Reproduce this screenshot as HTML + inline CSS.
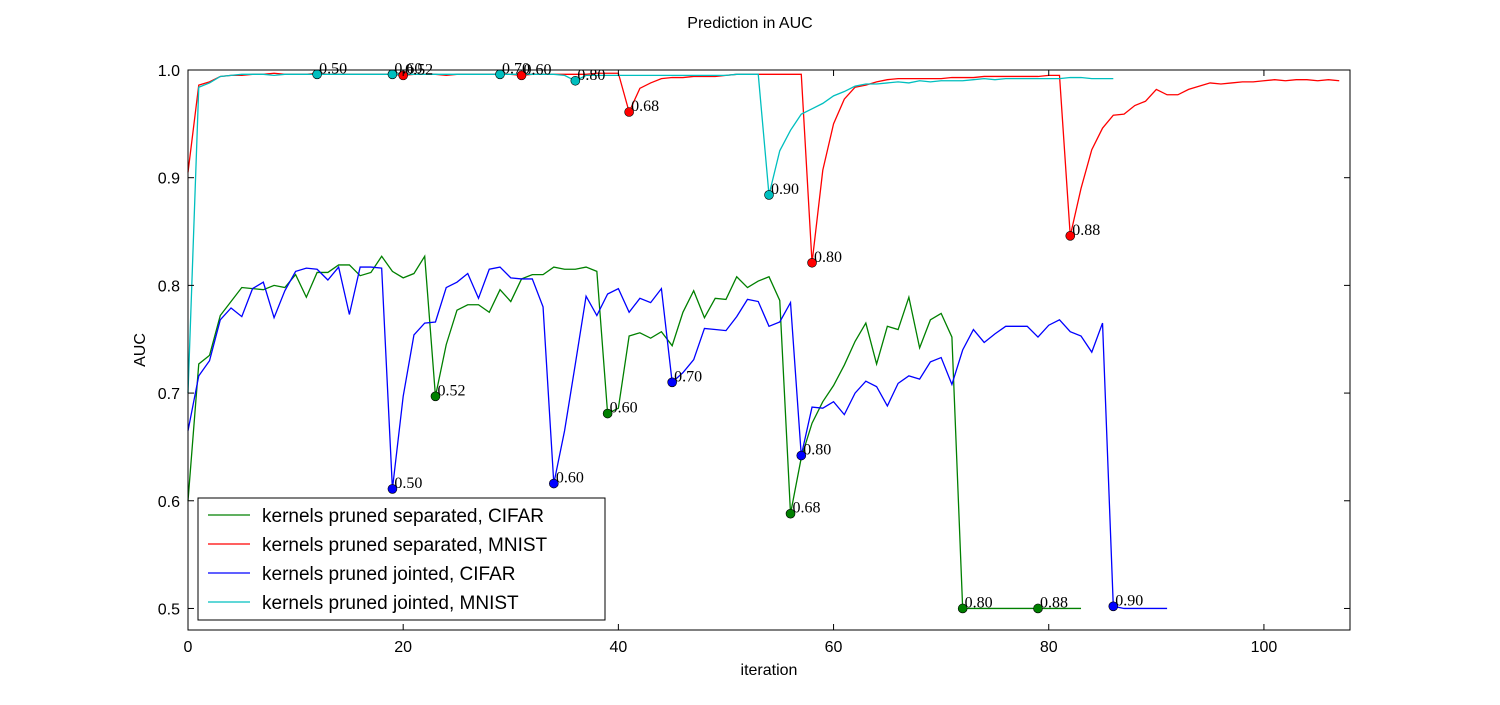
<!DOCTYPE html>
<html><head><meta charset="utf-8"><style>
body{margin:0;background:#fff;width:1500px;height:700px;overflow:hidden}
svg text{font-family:"Liberation Sans",sans-serif}
</style></head><body>
<svg id="c" width="1500" height="700"></svg>
<script>
const greenVals=[0.60,0.727,0.735,0.772,0.785,0.798,0.797,0.796,0.800,0.798,0.810,0.789,0.812,0.812,0.819,0.819,0.809,0.812,0.827,0.813,0.807,0.811,0.827,0.697,0.745,0.777,0.782,0.782,0.775,0.796,0.785,0.806,0.810,0.810,0.817,0.815,0.815,0.817,0.813,0.681,0.686,0.753,0.756,0.751,0.757,0.744,0.775,0.795,0.770,0.788,0.787,0.808,0.798,0.804,0.808,0.786,0.588,0.640,0.672,0.692,0.707,0.726,0.748,0.765,0.727,0.762,0.759,0.789,0.742,0.768,0.774,0.752,0.500,0.500,0.500,0.500,0.500,0.500,0.500,0.500,0.500,0.500,0.500,0.500];
const blueVals=[0.665,0.716,0.730,0.768,0.779,0.771,0.797,0.803,0.770,0.795,0.813,0.816,0.815,0.805,0.817,0.773,0.817,0.817,0.816,0.611,0.697,0.754,0.765,0.766,0.798,0.803,0.811,0.788,0.815,0.817,0.807,0.806,0.806,0.780,0.616,0.665,0.727,0.790,0.772,0.792,0.797,0.775,0.788,0.784,0.797,0.710,0.719,0.731,0.760,0.759,0.758,0.771,0.787,0.785,0.762,0.766,0.784,0.642,0.687,0.686,0.692,0.680,0.700,0.711,0.706,0.688,0.709,0.716,0.713,0.729,0.733,0.708,0.740,0.759,0.747,0.755,0.762,0.762,0.762,0.752,0.763,0.768,0.757,0.753,0.738,0.765,0.502,0.500,0.500,0.500,0.500,0.500];
const redVals=[0.905,0.986,0.989,0.994,0.995,0.995,0.996,0.996,0.997,0.996,0.996,0.996,0.997,0.996,0.996,0.996,0.996,0.996,0.996,0.996,0.995,0.996,0.996,0.996,0.995,0.996,0.996,0.996,0.996,0.996,0.996,0.995,0.996,0.996,0.996,0.996,0.996,0.996,0.997,0.997,0.997,0.961,0.983,0.988,0.992,0.993,0.993,0.994,0.994,0.994,0.995,0.996,0.996,0.996,0.996,0.996,0.996,0.996,0.821,0.907,0.950,0.973,0.984,0.986,0.989,0.991,0.992,0.992,0.992,0.992,0.992,0.993,0.993,0.993,0.994,0.994,0.994,0.994,0.994,0.994,0.995,0.995,0.846,0.890,0.926,0.946,0.958,0.959,0.967,0.971,0.982,0.977,0.977,0.982,0.985,0.988,0.987,0.988,0.989,0.989,0.990,0.991,0.990,0.991,0.991,0.990,0.991,0.990];
const cyanVals=[0.70,0.984,0.988,0.994,0.995,0.996,0.996,0.996,0.995,0.996,0.996,0.996,0.996,0.996,0.996,0.996,0.996,0.996,0.996,0.996,0.996,0.996,0.996,0.996,0.996,0.996,0.996,0.996,0.996,0.996,0.996,0.996,0.996,0.996,0.996,0.995,0.990,0.995,0.995,0.995,0.995,0.995,0.995,0.995,0.995,0.995,0.995,0.995,0.995,0.995,0.995,0.996,0.996,0.996,0.884,0.925,0.944,0.959,0.964,0.969,0.976,0.980,0.985,0.987,0.987,0.988,0.989,0.988,0.990,0.989,0.990,0.990,0.990,0.991,0.992,0.991,0.992,0.992,0.992,0.992,0.992,0.992,0.993,0.993,0.992,0.992,0.992];
const greenMarks=[23,39,56,72,79], greenLabels=["0.52","0.60","0.68","0.80","0.88"];
const blueMarks=[19,34,45,57,86], blueLabels=["0.50","0.60","0.70","0.80","0.90"];
const redMarks=[20,31,41,58,82], redLabels=["0.52","0.60","0.68","0.80","0.88"];
const cyanMarks=[12,19,29,36,54], cyanLabels=["0.50","0.60","0.70","0.80","0.90"];
const xTicks=[0,20,40,60,80,100];
const yTicks=[0.5,0.6,0.7,0.8,0.9,1.0];

const L=188,R=1350,T=70,B=630,X0=0,X1=108,Y0=0.48,Y1=1.0;
const sx=v=>L+(v-X0)/(X1-X0)*(R-L);
const sy=v=>B-(v-Y0)/(Y1-Y0)*(B-T);
const NS="http://www.w3.org/2000/svg";
const svg=document.getElementById('c');
function mk(tag,attrs,parent){const e=document.createElementNS(NS,tag);for(const k in attrs)e.setAttribute(k,attrs[k]);(parent||svg).appendChild(e);return e;}

const title=mk('text',{x:750,y:28,'text-anchor':'middle','font-size':16});
title.textContent='Prediction in AUC';



const plot=mk('g',{});



function series(vals,color,name){
  const p=mk('polyline',{points:vals.map((v,i)=>sx(i)+','+sy(v)).join(' '),fill:'none',stroke:color,'stroke-width':1.3},plot);
  
  
}
function marks(vals,idx,labels,color,name){
  idx.forEach((i,k)=>{
    const c=mk('circle',{cx:sx(i),cy:sy(vals[i]),r:4.5,fill:color,stroke:'#000','stroke-width':0.6},plot);
    
    
    const t=mk('text',{x:sx(i)+2,y:sy(vals[i])-1,'font-size':16,style:'font-family:"Liberation Serif",serif'},plot);
    t.textContent=labels[k];
    
    
  });
}
series(greenVals,'#008000','series-cifar-separated');
series(redVals,'#ff0000','series-mnist-separated');
series(blueVals,'#0000ff','series-cifar-jointed');
series(cyanVals,'#00bfbf','series-mnist-jointed');
marks(greenVals,greenMarks,greenLabels,'#008000','cifar-separated');
marks(redVals,redMarks,redLabels,'#ff0000','mnist-separated');
marks(blueVals,blueMarks,blueLabels,'#0000ff','cifar-jointed');
marks(cyanVals,cyanMarks,cyanLabels,'#00bfbf','mnist-jointed');

const frame=mk('rect',{x:L,y:T,width:R-L,height:B-T,fill:'none',stroke:'#000','stroke-width':1});



xTicks.forEach(v=>{
  mk('line',{x1:sx(v),x2:sx(v),y1:B,y2:B-6,stroke:'#000'});
  mk('line',{x1:sx(v),x2:sx(v),y1:T,y2:T+6,stroke:'#000'});
  const t=mk('text',{x:sx(v),y:B+22,'text-anchor':'middle','font-size':16});
  t.textContent=v;
  
  
});
yTicks.forEach(v=>{
  mk('line',{x1:L,x2:L+6,y1:sy(v),y2:sy(v),stroke:'#000'});
  mk('line',{x1:R,x2:R-6,y1:sy(v),y2:sy(v),stroke:'#000'});
  const t=mk('text',{x:L-8,y:sy(v)+6,'text-anchor':'end','font-size':16});
  t.textContent=v.toFixed(1);
  
  
});
const xt=mk('text',{x:769,y:675,'text-anchor':'middle','font-size':16});
xt.textContent='iteration';


const yt=mk('text',{x:145,y:350,'text-anchor':'middle','font-size':16,transform:'rotate(-90 145 350)'});
yt.textContent='AUC';



const leg=mk('g',{});


mk('rect',{x:198,y:498,width:407,height:122,fill:'#fff',stroke:'#000','stroke-width':1},leg);
const legItems=[['kernels pruned separated, CIFAR','#008000'],['kernels pruned separated, MNIST','#ff0000'],['kernels pruned jointed, CIFAR','#0000ff'],['kernels pruned jointed, MNIST','#00bfbf']];
legItems.forEach((it,k)=>{
  const y=515+k*29;
  const g=mk('g',{},leg);
  
  
  mk('line',{x1:208,x2:250,y1:y,y2:y,stroke:it[1],'stroke-width':1.3},g);
  const t=mk('text',{x:262,y:y+7,'font-size':19},g);
  t.textContent=it[0];
});
</script>
</body></html>
